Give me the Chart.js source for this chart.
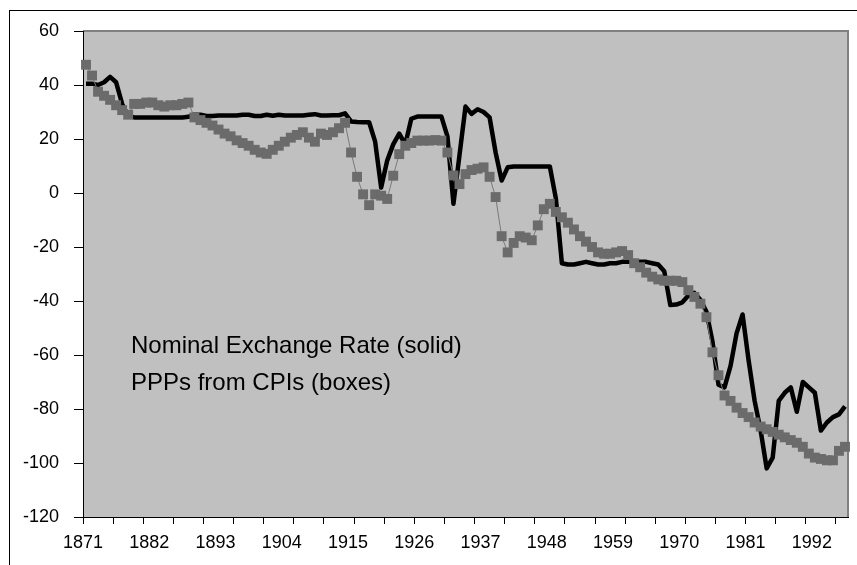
<!DOCTYPE html>
<html>
<head>
<meta charset="utf-8">
<style>
  body { margin: 0; background: #fff; }
  .wrap { position: relative; width: 857px; height: 565px; }
  .note {
    position: absolute; left: 131px; top: 326px;
    font-family: "Liberation Sans", Arial, sans-serif; font-size: 24px;
    line-height: 37px; color: #000; white-space: nowrap;
  }
</style>
</head>
<body>
<div class="wrap">
  <canvas id="rateChart" width="857" height="565"></canvas>
  <div class="note">Nominal Exchange Rate (solid)<br>PPPs from CPIs (boxes)</div>
</div>

<script src="https://cdn.jsdelivr.net/npm/chart.js"></script>
<script>
// one category per year, 1871-1997
const years = Array.from({ length: 127 }, (_, i) => 1871 + i);

// nominal exchange rate (solid line)
const nominal = [
    40.5, 40.5, 40, 41, 43, 41, 33, 28.5, 28, 28,          // 1871-1880
    28, 28, 28, 28, 28, 28, 28, 28.2, 29, 29,              // 1881-1890
    28.5, 28.5, 28.7, 28.7, 28.7, 28.7, 29, 29, 28.5, 28.5, // 1891-1900
    29, 28.6, 29, 28.7, 28.7, 28.7, 28.7, 29, 29.2, 28.7,  // 1901-1910
    28.7, 28.8, 28.8, 29.5, 26.5, 26.3, 26.2, 26.2, 19, 2, // 1911-1920
    12, 18, 22, 18, 27.5, 28.3, 28.3, 28.3, 28.3, 28.3,    // 1921-1930
    21, -4, 14, 32, 29.3, 31, 30, 28, 15, 4.6,             // 1931-1940
    9.5, 9.8, 9.8, 9.8, 9.8, 9.8, 9.8, 9.8, -2, -26,       // 1941-1950
    -26.5, -26.5, -26, -25.5, -26, -26.5, -26.5, -26, -26, -25.5, // 1951-1960
    -25.5, -25.5, -25.5, -25.5, -26, -26.5, -29, -41.5, -41.3, -40.5, // 1961-1970
    -38, -37, -39.5, -44, -55, -71, -72, -64, -52, -45,    // 1971-1980
    -62, -77, -88, -102, -98, -77, -74, -72, -81, -70,     // 1981-1990
    -72, -74, -88, -85, -83, -82, -79                      // 1991-1997
];

// PPPs from CPIs (boxes)
const ppp = [
    47.5, 43.5, 37.5, 36, 34.5, 32.5, 30.7, 29, 33, 33,     // 1871-1880
    33.5, 33.5, 32.5, 32, 32.5, 32.5, 33, 33.5, 28, 27,     // 1881-1890
    26, 25, 23.5, 22, 21, 19.5, 18.5, 17.5, 16, 15,         // 1891-1900
    14.5, 16, 17.5, 19, 20.5, 21.5, 22.5, 20.5, 19, 22,     // 1901-1910
    21.5, 22.5, 24, 26, 15, 6, -0.5, -4.5, -0.5, -1,        // 1911-1920
    -2.2, 6.4, 14.4, 17.5, 18.5, 19.4, 19.4, 19.4, 19.6, 19.4, // 1921-1930
    15, 6.5, 3.3, 7, 8.5, 9, 9.5, 6, -1.5, -16,             // 1931-1940
    -22, -18.5, -16, -16.5, -17.5, -12, -6, -4, -7, -9,     // 1941-1950
    -11, -13.5, -16, -18, -20, -22, -22.5, -22.5, -22, -21.5, // 1951-1960
    -23, -26, -27.5, -29.5, -31, -32, -32.5, -32.5, -32.5, -33, // 1961-1970
    -36, -38.5, -41, -46, -59, -67.5, -75, -77, -79.5, -81.5, // 1971-1980
    -83, -85, -86.5, -87.5, -88.5, -89.5, -90.5, -91.5, -92.5, -94, // 1981-1990
    -96.5, -98, -98.5, -99, -99, -95.5, -94                 // 1991-1997
];

const labelEvery = 11;
const tickEvery = 5;
const axisFont = { family: 'Liberation Sans, Arial, sans-serif', size: 18 };

// grey plot area, outer frame
const framePlugin = {
    id: 'frame',
    beforeDraw(chart) {
        const c = chart.ctx;
        const a = chart.chartArea;
        c.save();
        c.fillStyle = '#ffffff';
        c.fillRect(0, 0, chart.width, chart.height);
        c.strokeStyle = '#000000';
        c.lineWidth = 1;
        c.strokeRect(9.5, 10.5, 1000, 1000);
        c.fillStyle = '#c0c0c0';
        c.fillRect(a.left, a.top, a.right - a.left, a.bottom - a.top);
        c.strokeStyle = '#808080';
        c.lineWidth = 2;
        c.beginPath();
        c.moveTo(a.left, a.top);
        c.lineTo(a.right, a.top);
        c.lineTo(a.right, a.bottom);
        c.stroke();
        c.restore();
    }
};

const ctx = document.getElementById('rateChart').getContext('2d');
new Chart(ctx, {
    type: 'line',
    data: {
        labels: years,
        datasets: [
            {
                label: 'PPPs from CPIs (boxes)',
                data: ppp,
                borderColor: '#7a7a7a',
                borderWidth: 1,
                pointStyle: 'rect',
                pointRadius: 7,
                pointBackgroundColor: '#6b6b6b',
                pointBorderWidth: 0,
                tension: 0,
                order: 0
            },
            {
                label: 'Nominal Exchange Rate (solid)',
                data: nominal,
                borderColor: '#000000',
                borderWidth: 4.5,
                borderJoinStyle: 'round',
                pointRadius: 0,
                tension: 0,
                order: 1
            }
        ]
    },
    options: {
        responsive: false,
        animation: false,
        layout: { padding: { top: 31, right: 9, left: 0, bottom: 0 } },
        plugins: {
            legend: { display: false },
            tooltip: { enabled: false }
        },
        scales: {
            x: {
                offset: true,
                grid: {
                    offset: true,
                    drawOnChartArea: false,
                    tickLength: 7,
                    tickColor: c => (c.index % tickEvery === 0 ? '#000000' : 'rgba(0,0,0,0)')
                },
                border: { color: '#000000', width: 1 },
                ticks: {
                    autoSkip: false,
                    maxRotation: 0,
                    padding: 8,
                    labelOffset: -3,
                    color: '#000000',
                    font: axisFont,
                    callback: (v, i) => (i % labelEvery === 0 ? String(years[i]) : '')
                },
                afterFit: s => { s.height = 48; }
            },
            y: {
                min: -120,
                max: 60,
                grid: {
                    drawOnChartArea: false,
                    tickLength: 9,
                    tickColor: '#000000'
                },
                border: { color: '#000000', width: 1 },
                ticks: {
                    stepSize: 20,
                    padding: 15,
                    color: '#000000',
                    font: axisFont
                },
                afterFit: s => { s.width = 83; }
            }
        }
    },
    plugins: [framePlugin]
});
</script>
</body>
</html>
